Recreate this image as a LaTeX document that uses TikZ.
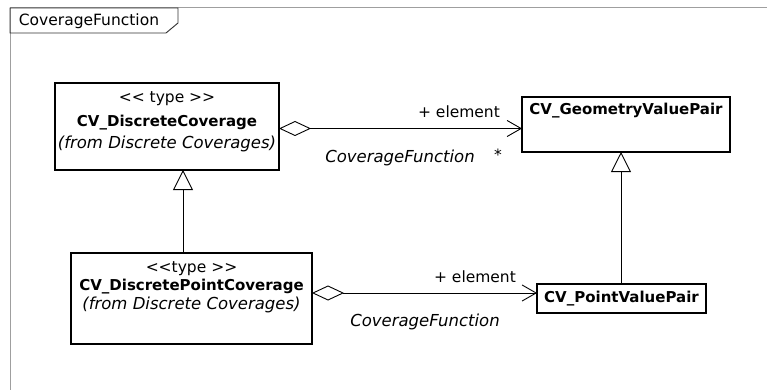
\documentclass[tikz,border=0pt]{standalone}
\usepackage{fontspec}
\setmainfont{DejaVu Sans}
\usetikzlibrary{arrows.meta,calc}
\begin{document}
\begin{tikzpicture}[x=1pt,y=-1pt,
  every node/.style={inner sep=0pt,outer sep=0pt},
  txt/.style={font=\fontsize{15.5}{18}\selectfont},
  itxt/.style={font=\fontsize{16.5}{18}\selectfont\itshape},
  btxt/.style={font=\fontsize{15}{18}\selectfont\bfseries},
  classbox/.style={draw=black,line width=1.1pt,fill=white,anchor=north west},
  frameline/.style={draw=gray!75,line width=1pt},
  assoc/.style={draw=black,line width=0.9pt,
    {Diamond[open,length=32pt,width=15pt,line width=0.9pt]}-{Straight Barb[length=14pt,width=16pt,line width=0.9pt]}},
  gen/.style={draw=black,line width=0.9pt,
    -{Triangle[open,length=20pt,width=20pt,line width=0.9pt,fill=white]}}]
\useasboundingbox (0,0) rectangle (767,390);
\fill[white] (0,0) rectangle (767,390);

% package frame with its name tab
\draw[frameline] (767,8) -- (10,8) -- (10,390);
\draw[black!80,line width=0.9pt] (10,8) -- (178,8) -- (178,23) -- (166,33) -- (10,33) -- cycle;
\node[txt] (pkgname) at (89,21) {CoverageFunction};

% classes
\node[classbox,minimum width=224pt,minimum height=87pt] (dc) at (55,83) {};
\node[txt]  (dcst)  at (167,99)  {{<}{<} type {>}{>}};
\node[btxt] (dcnm)  at (167,123) {CV\_DiscreteCoverage};
\node[itxt] (dcfr)  at (167,144) {(from Discrete Coverages)};

\node[classbox,minimum width=208pt,minimum height=55pt] (gvp) at (522,97) {};
\node[btxt] (gvpnm) at (626,111) {CV\_GeometryValuePair};

\node[classbox,minimum width=241pt,minimum height=91pt] (dpc) at (71,253) {};
\node[txt]  (dpcst) at (191.5,269) {{<}{<}type {>}{>}};
\node[btxt] (dpcnm) at (191.5,287) {CV\_DiscretePointCoverage};
\node[itxt] (dpcfr) at (191.5,305) {(from Discrete Coverages)};

\node[classbox,minimum width=169pt,minimum height=29pt] (pvp) at (537,284) {};
\node[btxt] (pvpnm) at (621.5,299) {CV\_PointValuePair};

% associations
\draw[assoc] (dc.east |- 0,128.5) -- (gvp.west |- 0,128.5);
\node[txt]  (el1) at (459,112) {+ element};
\node[itxt] (cf1) at (400,158) {CoverageFunction};
\node[txt]  (m1)  at (498,155) {*};

\draw[assoc] (dpc.east |- 0,293) -- (pvp.west |- 0,293);
\node[txt]  (el2) at (475,277) {+ element};
\node[itxt] (cf2) at (425,322) {CoverageFunction};

% generalizations
\draw[gen] (dpc.north -| 183,0) -- (dc.south -| 183,0);
\draw[gen] (pvp.north -| 621,0) -- (gvp.south -| 621,0);
\end{tikzpicture}
\end{document}
